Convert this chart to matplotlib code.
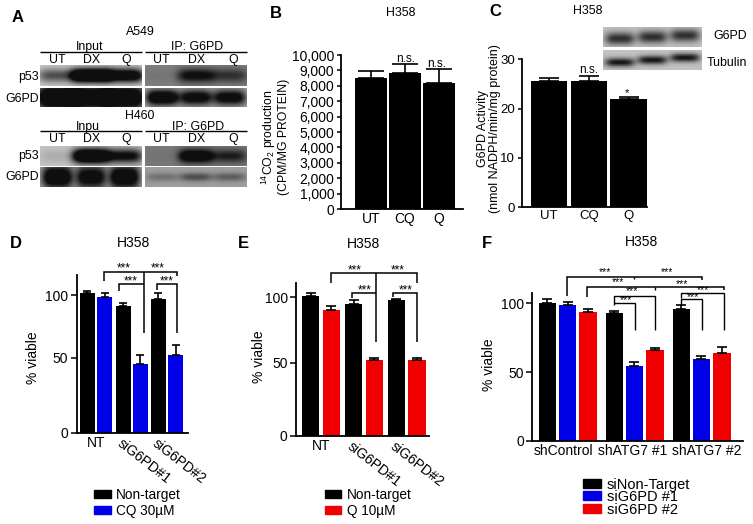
import matplotlib
matplotlib.use("Agg")
import matplotlib.pyplot as plt
import numpy as np
from matplotlib.patches import Patch

W, H = 753, 524
plt.rcParams["font.family"] = ["Liberation Sans", "DejaVu Sans"]
plt.rcParams["mathtext.default"] = "regular"

BLUE = "#0000e6"
RED = "#f00000"

# ── Data ─────────────────────────────────────────────────────────────────────
b_labels = ["UT", "CQ", "Q"]
b_vals = [8500, 8810, 8180]
b_tops = [8960, 9390, 9070]
b_ticks = list(range(0, 10001, 1000))

c_labels = ["UT", "CQ", "Q"]
c_vals = [25.6, 25.6, 22.0]
c_tops = [26.2, 26.6, 22.3]

d_groups = ["NT", "siG6PD#1", "siG6PD#2"]
d_black = [101.3, 91.2, 96.5]
d_black_top = [103.2, 93.3, 101.3]
d_blue = [98.1, 45.8, 52.1]
d_blue_top = [101.9, 52.4, 60.4]

e_groups = ["NT", "siG6PD#1", "siG6PD#2"]
e_black = [100.8, 95.2, 97.7]
e_black_top = [103.3, 98.2, 98.5]
e_red = [90.3, 52.3, 52.3]
e_red_top = [93.6, 53.3, 53.3]

f_groups = ["shControl", "shATG7 #1", "shATG7 #2"]
f_black = [100.0, 93.2, 95.9]
f_black_top = [103.2, 94.2, 98.5]
f_blue = [98.5, 54.1, 59.2]
f_blue_top = [100.7, 57.5, 61.7]
f_red = [93.7, 66.0, 64.1]
f_red_top = [96.1, 67.7, 68.2]

# band darkness per lane, UT / DX / Q
blot_a_p53_in = [0.50, 1.40, 1.05]
blot_a_g6_in = [0.95, 0.85, 0.90]
blot_a_p53_ip = [0.04, 0.50, 0.32]
blot_a_g6_ip = [0.90, 0.75, 0.75]
blot_h_p53_in = [0.10, 1.30, 0.80]
blot_h_g6_in = [0.85, 0.75, 0.85]
blot_h_p53_ip = [0.03, 0.70, 0.38]
blot_h_g6_ip = [0.18, 0.32, 0.26]
blot_c_g6 = [0.58, 0.58, 0.58]
blot_c_tub = [0.68, 0.68, 0.68]

fig = plt.figure(figsize=(W / 100, H / 100), dpi=100)

# overlay in pixel coords for blots, brackets and panel text
ov = fig.add_axes([0, 0, 1, 1], zorder=5)
ov.set_xlim(0, W)
ov.set_ylim(H, 0)
ov.axis("off")
ov.patch.set_alpha(0)


def px_axes(left, top, right, bottom, fs, tick_len):
    ax = fig.add_axes([left / W, 1 - bottom / H, (right - left) / W, (bottom - top) / H])
    ax.spines["top"].set_visible(False)
    ax.spines["right"].set_visible(False)
    ax.spines["left"].set_linewidth(1.3)
    ax.spines["bottom"].set_linewidth(1.3)
    ax.tick_params(axis="y", labelsize=fs, length=tick_len, width=1.1, pad=1.5)
    ax.tick_params(axis="x", labelsize=fs, length=0, pad=2.5)
    return ax


def bars(ax, xs, vals, tops, width, color, cap):
    xs = np.asarray(xs, dtype=float)
    vals = np.asarray(vals)
    ax.bar(xs, vals, width, color=color)
    ax.errorbar(xs, vals, yerr=[np.zeros(len(vals)), np.asarray(tops) - vals], fmt="none",
                ecolor="black", elinewidth=1.2, capsize=cap, capthick=1.2)


def warped_scale(ax, vals, pixels):
    # the tick marks in D and E are not evenly spaced
    forward = lambda v: np.interp(v, vals, pixels)
    inverse = lambda p: np.interp(p, pixels, vals)
    ax.set_yscale("function", functions=(forward, inverse))


def blot(x0, y0, x1, y1, bg, strengths, half_w, half_h, lanes=(0.17, 0.5, 0.83), tilt=0.0):
    nx, ny = int(x1 - x0) * 2, int(y1 - y0) * 2
    xx, yy = np.meshgrid(np.linspace(0, 1, nx), np.linspace(0, 1, ny))
    img = np.full((ny, nx), bg, dtype=float)
    for i, (cx, s) in enumerate(zip(lanes, strengths)):
        cy = 0.5 - tilt * (i - 1)
        band = np.exp(-(((xx - cx) / half_w) ** 4 + ((yy - cy) / half_h) ** 2))
        img -= s * band
    ov.imshow(np.clip(img, 0.06, 1), extent=(x0, x1, y1, y0), cmap="gray", vmin=0, vmax=1,
              aspect="auto", interpolation="bilinear")


def text(x, y, s, fs, **kw):
    kw.setdefault("ha", "center")
    kw.setdefault("va", "center")
    ov.text(x, y, s, fontsize=fs, **kw)


def line(xs, ys, lw=1.1):
    ov.plot(xs, ys, color="black", lw=lw, solid_capstyle="butt", solid_joinstyle="miter")


def bracket(x0, x1, y, drop0, drop1, lw=1.1):
    line([x0, x0, x1, x1], [drop0, y, y, drop1], lw)


def legend(handles, x, y, fs, spacing):
    fig.legend(handles=handles, loc="upper left", bbox_to_anchor=(x / W, 1 - y / H), frameon=False,
               fontsize=fs, handlelength=1.2, handleheight=0.55, handletextpad=0.4,
               labelspacing=spacing, borderpad=0, borderaxespad=0)


# ── A: western blots ─────────────────────────────────────────────────────────
blot(40, 65.7, 142, 86, 0.80, blot_a_p53_in, 0.19, 0.34)
blot(40, 87.7, 142, 106.7, 0.62, blot_a_g6_in, 0.20, 0.62)
blot(145.3, 65.7, 247.3, 86, 0.50, blot_a_p53_ip, 0.18, 0.34)
blot(145.3, 87.7, 247.3, 106.7, 0.66, blot_a_g6_ip, 0.16, 0.42)
blot(40, 145.7, 142, 165.7, 0.78, blot_h_p53_in, 0.18, 0.38)
blot(40, 167.3, 142, 186.7, 0.65, blot_h_g6_in, 0.15, 0.60)
blot(145.3, 145.7, 247.3, 165.7, 0.48, blot_h_p53_ip, 0.17, 0.34)
blot(145.3, 167.3, 247.3, 186.7, 0.62, blot_h_g6_ip, 0.16, 0.22)
ov.set_xlim(0, W)
ov.set_ylim(H, 0)

text(18, 18, "A", 12, fontweight="bold")
for lab, y_t, y_g, y_l, name_y, in_x, in_lab, ip_x in [
    ("A549", 46.7, 60, 51.7, 32, 90, "Input", 197),
    ("H460", 127, 139, 131, 116, 88, "Inpu", 198),
]:
    text(140, name_y, lab, 8.9)
    text(in_x, y_t, in_lab, 8.9)
    text(ip_x, y_t, "IP: G6PD", 8.9)
    line([40, 142], [y_l, y_l], 1.0)
    line([145, 247], [y_l, y_l], 1.0)
    for lx, s in zip([57, 92, 126, 161, 197, 233], ["UT", "DX", "Q"] * 2):
        text(lx, y_g, s, 8.9)
for y, s in [(77, "p53"), (99, "G6PD"), (156, "p53"), (177, "G6PD")]:
    text(38.7, y, s, 8.9, ha="right")

# ── B ────────────────────────────────────────────────────────────────────────
ax = px_axes(340.7, 55, 463, 209, 10, 3.2)
bars(ax, range(3), b_vals, b_tops, 0.927, "black", 9.4)
ax.set_xlim(-0.88, 2.70)
ax.set_ylim(0, 10000)
ax.set_yticks(b_ticks, [f"{t:,}" for t in b_ticks])
ax.set_xticks(range(3), b_labels)
ax.set_ylabel("$^{14}$CO$_2$ production\n(CPM/MG PROTEIN)", fontsize=8.8, va="center", linespacing=1.0)
ax.yaxis.set_label_coords(275, 137, transform=ov.transData)
text(276, 14, "B", 12, fontweight="bold")
text(400.7, 13, "H358", 8.9)
text(405.7, 59.5, "n.s.", 8.5)
text(436.7, 64, "n.s.", 8.5)

# ── C ────────────────────────────────────────────────────────────────────────
ax = px_axes(521.7, 59.3, 647, 207, 9.5, 3.2)
bars(ax, range(3), c_vals, c_tops, 0.916, "black", 7)
ax.set_xlim(-0.687, 2.465)
ax.set_ylim(0, 30)
ax.set_yticks([0, 10, 20, 30])
ax.set_xticks(range(3), c_labels)
ax.set_ylabel("G6PD Activity\n(nmol NADPH/min/mg protein)", fontsize=9, va="center", linespacing=1.0)
ax.yaxis.set_label_coords(489, 129, transform=ov.transData)
text(495.7, 12, "C", 12, fontweight="bold")
text(587.7, 11, "H358", 8.9)
text(589, 70, "n.s.", 8.5)
text(626.7, 93.5, "*", 8)
blot(603.3, 27.3, 702.3, 47.3, 0.76, blot_c_g6, 0.15, 0.32, tilt=0.08)
blot(603.3, 50.7, 702.3, 70, 0.76, blot_c_tub, 0.15, 0.22, tilt=0.12)
ov.set_xlim(0, W)
ov.set_ylim(H, 0)
text(729.7, 35.7, "G6PD", 8.9)
text(727, 63, "Tubulin", 8.9)

# ── D ────────────────────────────────────────────────────────────────────────
ax = px_axes(76.7, 275, 187.7, 432.7, 10, 4.5)
starts = np.array([0, 2.06, 4.1])
warped_scale(ax, [0, 50, 100, 116], [0, 225, 413, 473])
bars(ax, starts, d_black, d_black_top, 0.867, "black", 3.2)
bars(ax, starts + 0.99, d_blue, d_blue_top, 0.867, BLUE, 3.2)
ax.set_xlim(-0.624, 5.79)
ax.set_ylim(0, 116)
ax.set_yticks([0, 50, 100])
ax.set_xticks(starts + np.array([0.5, 0, 0]), d_groups)
for t in ax.get_xticklabels()[1:]:
    t.set(rotation=-38, ha="left", va="top", rotation_mode="anchor")
ax.set_ylabel("% viable", fontsize=10, va="center")
ax.yaxis.set_label_coords(33, 358, transform=ov.transData)
text(16, 243, "D", 12, fontweight="bold")
text(134, 243, "H358", 10)
bracket(104.3, 177.3, 272.3, 281, 275.5)
line([144, 144], [272.3, 332.7])
bracket(119, 144, 284, 290.5, 284)
bracket(157.3, 177.3, 284, 290, 332.7)
for x, y in [(124, 268.5), (157.7, 268.5), (130.7, 281.5), (166.7, 281.5)]:
    text(x, y, "***", 8.5)
legend([Patch(color="black", label="Non-target"), Patch(color=BLUE, label="CQ 30µM")], 94.3, 488, 9.8, 0.12)

# ── E ────────────────────────────────────────────────────────────────────────
ax = px_axes(296, 283.3, 429, 435.7, 10, 4.5)
starts = np.array([0, 2.09, 4.16])
warped_scale(ax, [0, 50, 100, 110.7], [0, 219, 415, 457])
bars(ax, starts, e_black, e_black_top, 0.84, "black", 3.8)
bars(ax, starts + 0.995, e_red, e_red_top, 0.84, RED, 3.8)
ax.set_xlim(-0.714, 5.74)
ax.set_ylim(0, 110.7)
ax.set_yticks([0, 50, 100])
ax.set_xticks(starts + np.array([0.5, 0, 0]), e_groups)
for t in ax.get_xticklabels()[1:]:
    t.set(rotation=-38, ha="left", va="top", rotation_mode="anchor")
ax.set_ylabel("% viable", fontsize=10, va="center")
ax.yaxis.set_label_coords(259, 357, transform=ov.transData)
text(243, 243, "E", 12, fontweight="bold")
text(364, 243.5, "H358", 10)
bracket(331, 417, 273.3, 282.7, 282.7)
line([376.3, 376.3], [273.3, 341.7])
bracket(352.3, 376.3, 292.7, 298, 292.7)
bracket(393.3, 417, 292.7, 296.7, 341.7)
for x, y in [(355, 270), (397.7, 270), (365, 290), (405.7, 290)]:
    text(x, y, "***", 8.5)
legend([Patch(color="black", label="Non-target"), Patch(color=RED, label="Q 10µM")], 325, 488, 9.8, 0.12)

# ── F ────────────────────────────────────────────────────────────────────────
ax = px_axes(532.3, 292.7, 742.7, 440.7, 10, 4.5)
starts = np.array([0, 3.31, 6.63])
bars(ax, starts, f_black, f_black_top, 0.857, "black", 3.8)
bars(ax, starts + 1, f_blue, f_blue_top, 0.857, BLUE, 3.8)
bars(ax, starts + 2.02, f_red, f_red_top, 0.857, RED, 3.8)
ax.set_xlim(-0.743, 9.67)
ax.set_ylim(0, 107.8)
ax.set_yticks([0, 50, 100])
ax.set_xticks(starts + 1 + np.array([-0.2, -0.08, 0.26]), f_groups, fontsize=10)
ax.set_ylabel("% viable", fontsize=10, va="center")
ax.yaxis.set_label_coords(489, 365, transform=ov.transData)
text(487, 244, "F", 12, fontweight="bold")
text(641.7, 242, "H358", 10)
bracket(567, 701.7, 276.7, 295.7, 280)
bracket(587.3, 724, 286.7, 296.7, 290)
line([634, 634], [276.7, 278.5], 1.0)
line([655.3, 655.3], [286.7, 290], 1.0)
bracket(614, 655, 295.7, 302.7, 330, 1.0)
bracket(614, 635, 302.7, 305, 330, 1.0)
bracket(681, 724, 292.7, 298, 330, 1.0)
bracket(681, 701.7, 299, 305, 330, 1.0)
for x, y in [(605, 272), (666.7, 272), (618, 282.5), (682, 284), (632, 291.5),
             (703, 290.5), (625.7, 300.5), (692.7, 297.5)]:
    text(x, y, "***", 7.5)
legend([Patch(color="black", label="siNon-Target"), Patch(color=BLUE, label="siG6PD #1"),
        Patch(color=RED, label="siG6PD #2")], 583.3, 477.5, 10.5, -0.1)

fig.savefig("out.png", dpi=100)
